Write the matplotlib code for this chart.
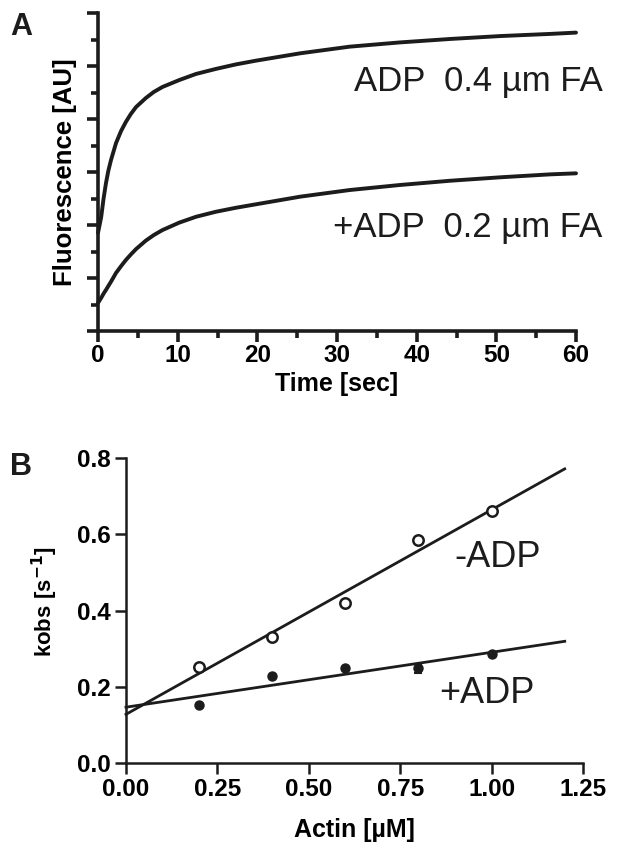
import numpy as np
import matplotlib
matplotlib.use("Agg")
import matplotlib.pyplot as plt
from matplotlib.ticker import MultipleLocator

plt.rcParams['font.family'] = ['Liberation Sans', 'DejaVu Sans']

# ---------------- Panel A data ----------------
time_s = [0, 0.4, 0.7, 1.0, 1.3, 1.63, 2.26, 2.9, 3.5, 4.1, 4.77, 6.0, 7.0, 8.1, 10.2, 12.3,
          14.8, 17.3, 19.8, 25.4, 31.6, 37.9, 44.2, 50.5, 56.7, 60]
fluor_04 = [3.7, 4.3, 5.0, 5.58, 6.05, 6.45, 7.09, 7.55, 7.89, 8.18, 8.45, 8.79, 9.02, 9.21,
            9.47, 9.7, 9.89, 10.06, 10.2, 10.48, 10.73, 10.89, 11.02, 11.13, 11.21, 11.26]
fluor_02 = [1.06, 1.25, 1.41, 1.55, 1.7, 1.86, 2.19, 2.45, 2.68, 2.88, 3.09, 3.41, 3.62, 3.81,
            4.09, 4.31, 4.5, 4.65, 4.78, 5.07, 5.32, 5.51, 5.67, 5.8, 5.91, 5.95]
label_04 = "ADP  0.4 µm FA"
label_02 = "+ADP  0.2 µm FA"

# ---------------- Panel B data ----------------
actin = [0.2, 0.4, 0.6, 0.8, 1.0]
kobs_minus = [0.252, 0.33, 0.42, 0.585, 0.661]
kobs_plus = [0.152, 0.228, 0.25, 0.248, 0.286]
err_plus = [0, 0, 0, 0.012, 0]
fit_range = [0.0, 1.2]
x_ticks_B = [0.00, 0.25, 0.50, 0.75, 1.00, 1.25]
y_ticks_B = [0.0, 0.2, 0.4, 0.6, 0.8]

W, H = 617, 856
fig = plt.figure(figsize=(W / 100, H / 100), dpi=100)

ink = '#1c1c1c'

# ---------------- Panel A ----------------
axA = fig.add_axes([98 / W, 1 - 331 / H, 478 / W, 318 / H])
axA.plot(time_s, fluor_04, color=ink, lw=2.8, solid_capstyle='round',
         solid_joinstyle='round', clip_on=False)
axA.plot(time_s, fluor_02, color=ink, lw=2.8, solid_capstyle='round',
         solid_joinstyle='round', clip_on=False)
axA.set_xlim(0, 60)
axA.set_ylim(0, 12)
axA.xaxis.set_major_locator(MultipleLocator(10))
axA.xaxis.set_minor_locator(MultipleLocator(5))
axA.yaxis.set_major_locator(MultipleLocator(2))
axA.yaxis.set_minor_locator(MultipleLocator(1))
axA.set_yticklabels([])
for s in ['top', 'right']:
    axA.spines[s].set_visible(False)
for s in ['left', 'bottom']:
    axA.spines[s].set_linewidth(2.6)
    axA.spines[s].set_color(ink)
axA.tick_params(which='major', length=8, width=2.6, color=ink, labelsize=17.5, pad=1)
axA.tick_params(which='minor', length=5, width=2.6, color=ink)
for lab in axA.get_xticklabels():
    lab.set_fontweight('bold')
axA.set_xlabel("Time [sec]", fontsize=18, fontweight='bold', labelpad=4)
axA.set_ylabel("Fluorescence [AU]", fontsize=18.5, fontweight='bold', labelpad=6)
axA.text(63.3, 9.43, label_04, fontsize=25, ha='right', va='center', color=ink)
axA.text(63.3, 3.92, label_02, fontsize=25, ha='right', va='center', color=ink)
fig.text(10 / W, 1 - 35 / H, "A", fontsize=22, fontweight='bold', color=ink)

# ---------------- Panel B ----------------
axB = fig.add_axes([126 / W, 1 - 763 / H, 457 / W, 305 / H])
fit_minus = np.polyfit(actin, kobs_minus, 1)
fit_plus = np.polyfit(actin, kobs_plus, 1)
axB.plot(fit_range, np.polyval(fit_minus, fit_range), color=ink, lw=2.0, clip_on=False)
axB.plot(fit_range, np.polyval(fit_plus, fit_range), color=ink, lw=2.0, clip_on=False)
axB.plot(actin, kobs_minus, 'o', ms=7.5, mfc='white', mec=ink, mew=1.8, clip_on=False, zorder=3)
axB.errorbar(actin, kobs_plus, yerr=err_plus, fmt='o', ms=6.5, color=ink, ecolor=ink,
             elinewidth=1.5, capsize=3, capthick=1.5, clip_on=False, zorder=3)
axB.set_xlim(0, 1.25)
axB.set_ylim(0, 0.8)
axB.set_xticks(x_ticks_B)
axB.set_yticks(y_ticks_B)
axB.set_xticklabels([f"{v:.2f}" for v in x_ticks_B], fontweight='bold')
axB.set_yticklabels([f"{v:.1f}" for v in y_ticks_B], fontweight='bold')
for s in ['top', 'right']:
    axB.spines[s].set_visible(False)
for s in ['left', 'bottom']:
    axB.spines[s].set_linewidth(1.8)
    axB.spines[s].set_color(ink)
axB.tick_params(which='major', length=8, width=1.8, color=ink, labelsize=17.5, pad=3)
axB.set_xlabel("Actin [µM]", fontsize=18, fontweight='bold', labelpad=12)
axB.set_ylabel("kobs [s$^{\\mathbf{-1}}$]", fontsize=16, fontweight='bold')
axB.yaxis.set_label_coords(-0.145, 0.53)
axB.text(0.897, 0.538, "-ADP", fontsize=26, ha='left', va='center', color=ink)
axB.text(0.856, 0.181, "+ADP", fontsize=26, ha='left', va='center', color=ink)
fig.text(10 / W, 1 - 475 / H, "B", fontsize=22, fontweight='bold', color=ink)

fig.savefig("out.png", dpi=100)
